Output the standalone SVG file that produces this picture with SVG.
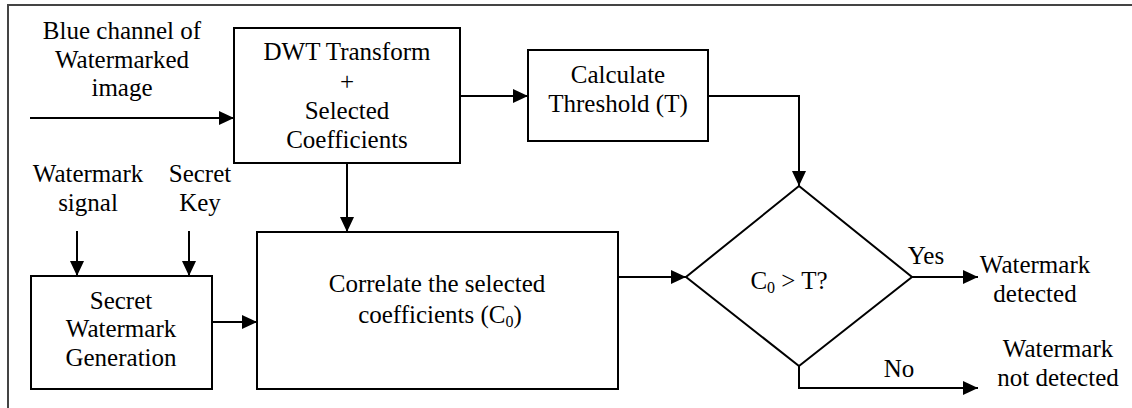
<svg xmlns="http://www.w3.org/2000/svg" width="1132" height="408" viewBox="0 0 1132 408">
  <style>
    text { font-size: 25px; fill: #000; text-anchor: middle; }
    .box { fill: #fff; stroke: #000; stroke-width: 2; }
    .wire { fill: none; stroke: #000; stroke-width: 2; }
    .sub { font-size: 16px; }
  </style>
  <defs>
    <marker id="arrow" markerUnits="userSpaceOnUse" markerWidth="15" markerHeight="14" refX="15" refY="7" orient="auto">
      <path d="M0,0 L15,7 L0,14 Z" fill="#000"/>
    </marker>
  </defs>

  <rect width="1132" height="408" fill="#fff"/>
  <!-- outer frame -->
  <rect x="8" y="5" width="1140" height="420" fill="none" stroke="#444" stroke-width="2"/>

  <g font-family="'Liberation Serif', 'DejaVu Serif', 'Times New Roman', serif">
  <!-- free-standing labels -->
  <g id="input-label">
    <text x="122" y="39">Blue channel of</text>
    <text x="122" y="68">Watermarked</text>
    <text x="122" y="96">image</text>
  </g>
  <g id="watermark-signal-label">
    <text x="88" y="182">Watermark</text>
    <text x="88" y="211">signal</text>
  </g>
  <g id="secret-key-label">
    <text x="200" y="182">Secret</text>
    <text x="200" y="211">Key</text>
  </g>

  <!-- connectors -->
  <g id="connectors">
    <path class="wire" d="M30,118 H234" marker-end="url(#arrow)"/>
    <path class="wire" d="M460,96 H528" marker-end="url(#arrow)"/>
    <path class="wire" d="M708,96 H799 V186" marker-end="url(#arrow)"/>
    <path class="wire" d="M347,163 V232" marker-end="url(#arrow)"/>
    <path class="wire" d="M77,231 V276" marker-end="url(#arrow)"/>
    <path class="wire" d="M189,231 V276" marker-end="url(#arrow)"/>
    <path class="wire" d="M212,322 H257" marker-end="url(#arrow)"/>
    <path class="wire" d="M618,277 H686" marker-end="url(#arrow)"/>
    <path class="wire" d="M912,277 H978" marker-end="url(#arrow)"/>
    <path class="wire" d="M799,366 V388 H978" marker-end="url(#arrow)"/>
    <text x="926" y="264">Yes</text>
    <text x="899" y="377">No</text>
  </g>

  <g id="dwt">
    <rect class="box" x="234" y="28" width="226" height="135"/>
    <text x="347" y="60">DWT Transform</text>
    <text x="347" y="90">+</text>
    <text x="347" y="119">Selected</text>
    <text x="347" y="148">Coefficients</text>
  </g>

  <g id="threshold">
    <rect class="box" x="528" y="50" width="180" height="91"/>
    <text x="618" y="83">Calculate</text>
    <text x="618" y="112">Threshold (T)</text>
  </g>

  <g id="generation">
    <rect class="box" x="31" y="276" width="181" height="113"/>
    <text x="121" y="309">Secret</text>
    <text x="121" y="337">Watermark</text>
    <text x="121" y="366">Generation</text>
  </g>

  <g id="correlate">
    <rect class="box" x="257" y="232" width="361" height="157"/>
    <text x="437" y="292">Correlate the selected</text>
    <text x="440" y="323">coefficients (C<tspan class="sub" dy="4">0</tspan><tspan dy="-4">)</tspan></text>
  </g>

  <g id="decision">
    <polygon class="box" points="799,186 912,277 799,366 686,277"/>
    <text x="789" y="289">C<tspan class="sub" dy="4">0</tspan><tspan dy="-4"> &gt; T?</tspan></text>
  </g>

  <g id="detected">
    <text x="1035" y="273">Watermark</text>
    <text x="1035" y="302">detected</text>
  </g>

  <g id="not-detected">
    <text x="1058" y="357">Watermark</text>
    <text x="1058" y="386">not detected</text>
  </g>
  </g>
</svg>
